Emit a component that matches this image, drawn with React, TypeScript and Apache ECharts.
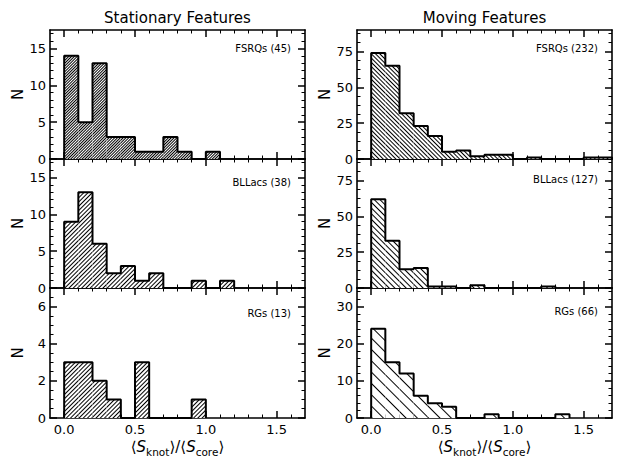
import React, { useEffect, useRef } from "react";
import * as echarts from "echarts";

// ---- data (histogram counts per 0.1-wide bin, starting at 0.0) ----
const binCategories = ["-0.1", "0.0", "0.1", "0.2", "0.3", "0.4", "0.5", "0.6", "0.7", "0.8", "0.9", "1.0", "1.1", "1.2", "1.3", "1.4", "1.5", "1.6"];
const binLefts = [0.0, 0.1, 0.2, 0.3, 0.4, 0.5, 0.6, 0.7, 0.8, 0.9, 1.0, 1.1, 1.2, 1.3, 1.4, 1.5, 1.6];
const binWidth = 0.1;

const stationaryFSRQ = [14, 5, 13, 3, 3, 1, 1, 3, 1, 0, 1];
const stationaryBLLac = [9, 13, 6, 2, 3, 1, 2, 0, 0, 1, 0, 1];
const stationaryRG = [3, 3, 2, 1, 0, 3, 0, 0, 0, 1];
const movingFSRQ = [74, 65, 32, 23, 16, 5, 6, 2, 3, 3, 0, 1, 0, 0, 0, 1, 1];
const movingBLLac = [62, 33, 13, 14, 1, 1, 0, 2, 0, 0, 0, 0, 1];
const movingRG = [24, 15, 12, 6, 4, 3, 0, 0, 1, 0, 0, 0, 0, 1];

const panelLabels = ["FSRQs (45)", "BLLacs (38)", "RGs (13)", "FSRQs (232)", "BLLacs (127)", "RGs (66)"];
const columnTitles = ["Stationary Features", "Moving Features"];

// ---- ticks ----
const xMajorTicks = [0, 0.5, 1.0, 1.5];
const xMinorTicks = [0.1, 0.2, 0.3, 0.4, 0.6, 0.7, 0.8, 0.9, 1.1, 1.2, 1.3, 1.4, 1.6];
const statMajor = [0, 5, 10, 15];
const statMinor = [1, 2, 3, 4, 6, 7, 8, 9, 11, 12, 13, 14, 16, 17];
const statRGMajor = [0, 2, 4, 6];
const statRGMinor = [0.5, 1, 1.5, 2.5, 3, 3.5, 4.5, 5, 5.5, 6.5];
const movMajor = [0, 25, 50, 75];
const movMinor = [6.25, 12.5, 18.75, 31.25, 37.5, 43.75, 56.25, 62.5, 68.75, 81.25, 87.5];
const movRGMajor = [0, 10, 20, 30];
const movRGMinor = [2, 4, 6, 8, 12, 14, 16, 18, 22, 24, 26, 28, 32, 34];

const FONT = "DejaVu Sans";

type Panel = {
  counts: number[];
  yMax: number;
  yMajor: number[];
  yMinor: number[];
  col: number;
  row: number;
  label: string;
  labelDy: number;
  hatchGap: number;
};

const panels: Panel[] = [
  { counts: stationaryFSRQ, yMax: 17.5, yMajor: statMajor, yMinor: statMinor, col: 0, row: 0, label: panelLabels[0], labelDy: 18, hatchGap: 1 },
  { counts: stationaryBLLac, yMax: 17.5, yMajor: statMajor, yMinor: statMinor, col: 0, row: 1, label: panelLabels[1], labelDy: 23, hatchGap: 2 },
  { counts: stationaryRG, yMax: 7, yMajor: statRGMajor, yMinor: statRGMinor, col: 0, row: 2, label: panelLabels[2], labelDy: 25, hatchGap: 2 },
  { counts: movingFSRQ, yMax: 90, yMajor: movMajor, yMinor: movMinor, col: 1, row: 0, label: panelLabels[3], labelDy: 18, hatchGap: 2 },
  { counts: movingBLLac, yMax: 90, yMajor: movMajor, yMinor: movMinor, col: 1, row: 1, label: panelLabels[4], labelDy: 20, hatchGap: 3 },
  { counts: movingRG, yMax: 35, yMajor: movRGMajor, yMinor: movRGMinor, col: 1, row: 2, label: panelLabels[5], labelDy: 23, hatchGap: 7 },
];

const gridLefts = [50, 357];
const gridWidth = 255;
const gridTops = [30, 159, 288];
const gridHeights = [129, 129, 130];

function outline(counts: number[]): number[][] {
  const pts: number[][] = [[binLefts[0], 0]];
  counts.forEach((c, i) => {
    pts.push([binLefts[i], c]);
    pts.push([binLefts[i] + binWidth, c]);
  });
  pts.push([binLefts[counts.length - 1] + binWidth, 0]);
  return pts;
}

function buildOption() {
  const grids: any[] = [];
  const xAxes: any[] = [];
  const yAxes: any[] = [];
  const series: any[] = [];
  const graphics: any[] = [];

  const lineStyle = { color: "#000", width: 1.6 };
  const labelStyle = { color: "#000", fontFamily: FONT, fontSize: 13 };

  panels.forEach((p, gi) => {
    const left = gridLefts[p.col];
    const top = gridTops[p.row];
    const height = gridHeights[p.row];
    grids.push({ left, top, width: gridWidth, height });
    const isBottom = p.row === 2;

    const xCat = xAxes.length;
    xAxes.push({
      gridIndex: gi, type: "category", data: binCategories, boundaryGap: true, show: false,
    });
    const xVal = xAxes.length;
    const xBase = {
      gridIndex: gi, type: "value", min: -0.1, max: 1.7, splitLine: { show: false },
    };
    xAxes.push({
      ...xBase, position: "bottom",
      axisLine: { show: true, onZero: false, lineStyle },
      axisTick: { show: true, inside: true, length: 7, lineStyle: { color: "#000", width: 1.5 }, customValues: xMajorTicks },
      axisLabel: { show: isBottom, customValues: xMajorTicks, formatter: (v: number) => v.toFixed(1), margin: 5, ...labelStyle },
    });
    xAxes.push({
      ...xBase, position: "top",
      axisLine: { show: true, onZero: false, lineStyle },
      axisTick: { show: true, inside: true, length: 7, lineStyle: { color: "#000", width: 1.5 }, customValues: xMajorTicks },
      axisLabel: { show: false },
    });
    xAxes.push({
      ...xBase, position: "bottom",
      axisLine: { show: false, onZero: false },
      axisTick: { show: true, inside: true, length: 3.5, lineStyle: { color: "#000", width: 1 }, customValues: xMinorTicks },
      axisLabel: { show: false },
    });
    xAxes.push({
      ...xBase, position: "top",
      axisLine: { show: false, onZero: false },
      axisTick: { show: true, inside: true, length: 3.5, lineStyle: { color: "#000", width: 1 }, customValues: xMinorTicks },
      axisLabel: { show: false },
    });

    const yBase = { gridIndex: gi, type: "value", min: 0, max: p.yMax, splitLine: { show: false } };
    const yMain = yAxes.length;
    yAxes.push({
      ...yBase, position: "left",
      axisLine: { show: true, onZero: false, lineStyle },
      axisTick: { show: true, inside: true, length: 7, lineStyle: { color: "#000", width: 1.5 }, customValues: p.yMajor },
      axisLabel: { show: true, customValues: p.yMajor, margin: 4, ...labelStyle },
    });
    yAxes.push({
      ...yBase, position: "right",
      axisLine: { show: true, onZero: false, lineStyle },
      axisTick: { show: true, inside: true, length: 7, lineStyle: { color: "#000", width: 1.5 }, customValues: p.yMajor },
      axisLabel: { show: false },
    });
    yAxes.push({
      ...yBase, position: "left",
      axisLine: { show: false, onZero: false },
      axisTick: { show: true, inside: true, length: 3.5, lineStyle: { color: "#000", width: 1 }, customValues: p.yMinor },
      axisLabel: { show: false },
    });
    yAxes.push({
      ...yBase, position: "right",
      axisLine: { show: false, onZero: false },
      axisTick: { show: true, inside: true, length: 3.5, lineStyle: { color: "#000", width: 1 }, customValues: p.yMinor },
      axisLabel: { show: false },
    });

    const barData = binCategories.map((_, i) => (i >= 1 && i - 1 < p.counts.length ? p.counts[i - 1] : 0));
    series.push({
      type: "bar", xAxisIndex: xCat, yAxisIndex: yMain, data: barData,
      barWidth: "100%", barCategoryGap: "0%", silent: true,
      itemStyle: {
        color: "#fff",
        decal: {
          symbol: "rect", symbolSize: 1, color: "#000", backgroundColor: "#fff",
          dashArrayX: [1, 0], dashArrayY: [1, p.hatchGap],
          rotation: p.col === 0 ? -Math.PI / 4 : Math.PI / 4,
        },
      },
      z: 1,
    });
    series.push({
      type: "line", xAxisIndex: xVal, yAxisIndex: yMain, data: outline(p.counts),
      symbol: "none", showSymbol: false, silent: true,
      lineStyle: { color: "#000", width: 2 }, z: 3,
    });

    graphics.push({
      type: "text", x: left + gridWidth - 14, y: top + p.labelDy,
      style: { text: p.label, fontFamily: FONT, fontSize: 10, fill: "#000", align: "right", verticalAlign: "middle", textAlign: "right", textVerticalAlign: "middle" },
    });
  });

  // column titles, y labels, x labels
  columnTitles.forEach((t, c) => {
    const cx = gridLefts[c] + gridWidth / 2;
    graphics.push({
      type: "text", x: cx, y: 18,
      style: { text: t, fontFamily: FONT, fontSize: 15, fill: "#000", align: "center", verticalAlign: "middle", textAlign: "center", textVerticalAlign: "middle" },
    });
    gridTops.forEach((top, r) => {
      graphics.push({
        type: "text", x: c === 0 ? 18 : 325, y: top + gridHeights[r] / 2, rotation: Math.PI / 2,
        style: { text: "N", fontFamily: FONT, fontSize: 15, fill: "#000", align: "center", verticalAlign: "middle", textAlign: "center", textVerticalAlign: "middle" },
      });
    });
    graphics.push({
      type: "text", x: cx, y: 447,
      style: {
        text: "⟨{i|S}{s|knot}⟩/⟨{i|S}{s|core}⟩",
        fontFamily: FONT, fontSize: 15, lineHeight: 20, fill: "#000",
        align: "center", verticalAlign: "middle", textAlign: "center", textVerticalAlign: "middle",
        rich: {
          i: { fontFamily: FONT, fontSize: 15, fontStyle: "italic", lineHeight: 20, fill: "#000" },
          s: { fontFamily: FONT, fontSize: 10.5, lineHeight: 8, verticalAlign: "bottom", fill: "#000" },
        },
      },
    });
  });

  return {
    animation: false,
    backgroundColor: "#fff",
    grid: grids,
    xAxis: xAxes,
    yAxis: yAxes,
    series,
    graphic: { elements: graphics },
  };
}

export default function App() {
  const ref = useRef<HTMLDivElement>(null);
  useEffect(() => {
    document.body.style.margin = "0";
    const chart = echarts.init(ref.current!, null, { renderer: "svg" });
    chart.setOption(buildOption() as any);
    return () => chart.dispose();
  }, []);
  return <div ref={ref} style={{ width: 623, height: 467 }} />;
}
